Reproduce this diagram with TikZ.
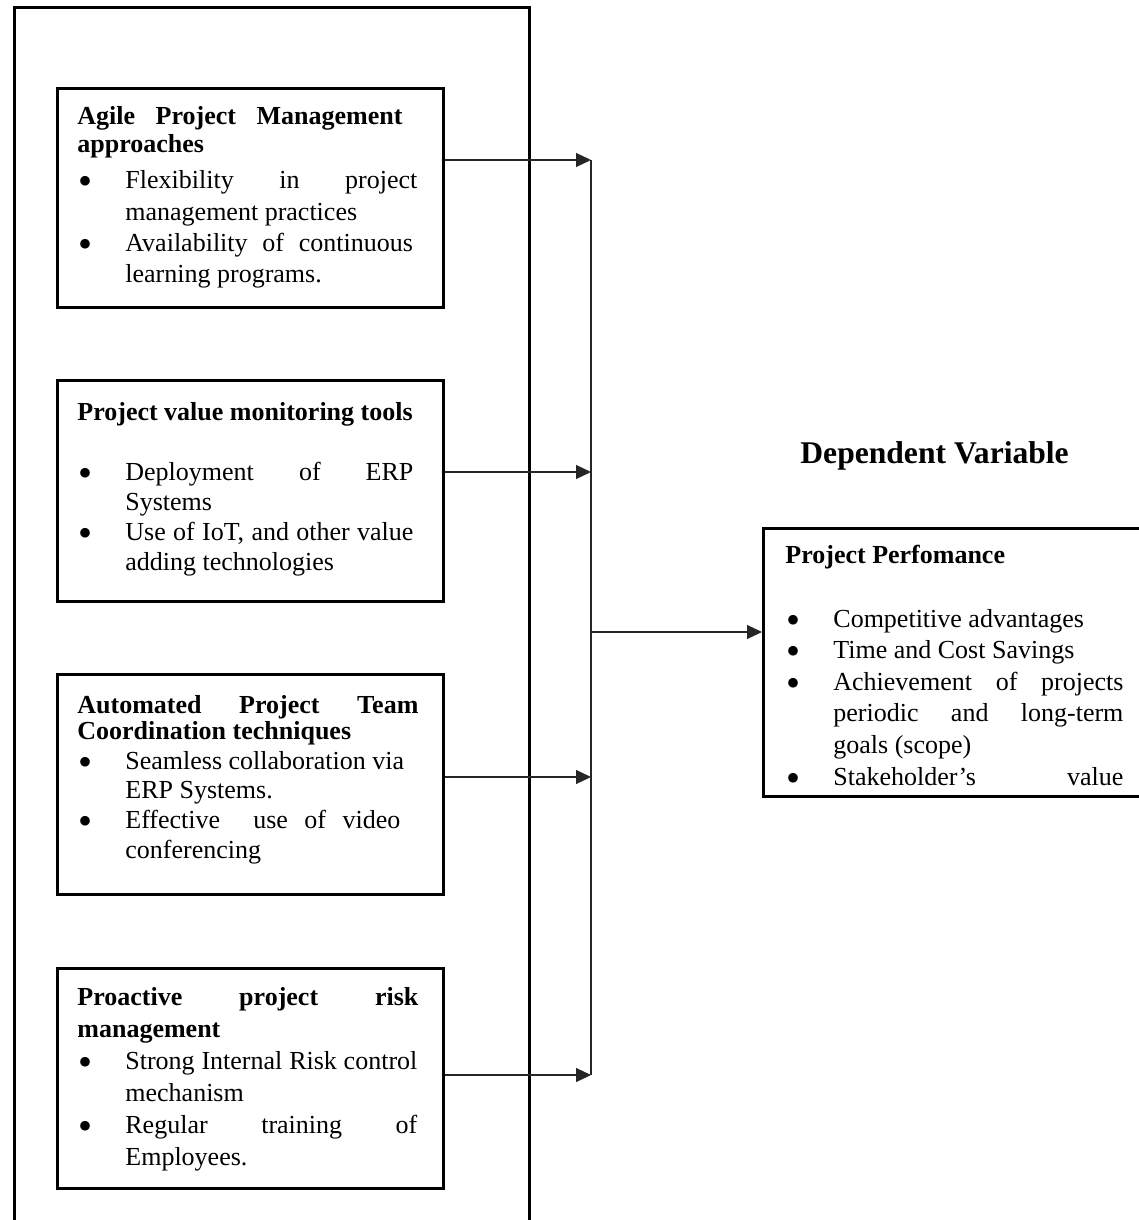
\documentclass[tikz,border=0pt]{standalone}
\usepackage{fontspec}
\setmainfont{Liberation Serif}
\newfontfamily\bulfont{DejaVu Sans}
\usetikzlibrary{arrows.meta}
\newcommand{\bul}{\makebox[24pt][l]{\hspace{1.1pt}\raisebox{2pt}{\bulfont\fontsize{6.3pt}{6.3pt}\selectfont ●}}}
\newcommand{\ind}{\hspace*{24pt}}
\newcommand{\jl}[2]{\makebox[#1][s]{#2}}
\begin{document}
\begin{tikzpicture}[x=0.5pt,y=-0.5pt,
  box/.style={draw, line width=1.4pt, inner sep=0pt, anchor=north west},
  txt/.style={inner sep=0pt, anchor=base west},
  conn/.style={line width=0.6pt, draw=black!85},
  arr/.style={conn, -{Triangle[length=7.5pt,width=7pt]}}]

\useasboundingbox (0,0) rectangle (1139,1220);
\clip (0,0) rectangle (1139,1220);

% outer frame
\node[box, line width=1.6pt, minimum width=257.75pt, minimum height=640pt] (frame) at (12.5,6) {};

% boxes
\node[box, minimum width=193pt, minimum height=109.5pt] (b1) at (56,87) {};
\node[box, minimum width=193pt, minimum height=110.5pt] (b2) at (56,379) {};
\node[box, minimum width=193pt, minimum height=110pt] (b3) at (56,673) {};
\node[box, minimum width=193pt, minimum height=110pt] (b4) at (56,967) {};
\node[box, minimum width=220pt, minimum height=134pt] (perf) at (762,527) {};

% texts
\node[txt] (t1) at (77,125) {\parbox[t]{200pt}{\fontsize{13pt}{13.5pt}\selectfont
{\bfseries\jl{162.5pt}{Agile Project Management}}\\
{\bfseries approaches}\\[5pt]
\bul\jl{146pt}{Flexibility in project}\\[2.15pt]
\ind management practices\\[2.15pt]
\bul\jl{143.75pt}{Availability of continuous}\\[2.15pt]
\ind learning programs.}};

\node[txt] (t2) at (77,420) {\parbox[t]{200pt}{\fontsize{13pt}{15pt}\selectfont
{\bfseries Project value monitoring tools}\\[15pt]
\bul\jl{144pt}{Deployment of ERP}\\
\ind Systems\\
\bul\jl{144pt}{Use of IoT, and other value}\\
\ind adding technologies}};

\node[txt] (t3) at (77,713) {\parbox[t]{200pt}{\fontsize{13pt}{13pt}\selectfont
{\bfseries\jl{170.5pt}{Automated Project Team}}\\
{\bfseries Coordination techniques}\\[2pt]
\bul Seamless collaboration via\\[1.7pt]
\ind ERP Systems.\\[2.2pt]
\bul\jl{137.5pt}{Effective\ \ use of video}\\[2pt]
\ind conferencing}};

\node[txt] (t4) at (77,1005) {\parbox[t]{200pt}{\fontsize{13pt}{16pt}\selectfont
{\bfseries\jl{170.5pt}{Proactive project risk}}\\
{\bfseries management}\\
\bul\jl{146pt}{Strong Internal Risk control}\\
\ind mechanism\\
\bul\jl{146pt}{Regular training of}\\
\ind Employees.}};

\node[txt] (t5) at (785,563) {\parbox[t]{200pt}{\fontsize{13pt}{15.8pt}\selectfont
{\bfseries Project Perfomance}\\[16.2pt]
\bul Competitive advantages\\
\bul Time and Cost Savings\\
\bul\jl{145pt}{Achievement of projects}\\
\ind\jl{145pt}{periodic and long-term}\\
\ind goals (scope)\\
\bul\jl{145pt}{Stakeholder’s value}}};

\node[txt, font=\fontsize{15.8pt}{18pt}\selectfont\bfseries] (dv) at (800,463) {Dependent Variable};

% connectors
\coordinate (bus1) at (591,160);
\coordinate (bus2) at (591,472);
\coordinate (bus3) at (591,777);
\coordinate (bus4) at (591,1075);
\coordinate (busm) at (591,632);

\draw[conn] (bus1) -- (bus4);
\draw[arr] (b1.east |- bus1) -- (bus1);
\draw[arr] (b2.east |- bus2) -- (bus2);
\draw[arr] (b3.east |- bus3) -- (bus3);
\draw[arr] (b4.east |- bus4) -- (bus4);
\draw[arr] (busm) -- (perf.west |- busm);
\end{tikzpicture}
\end{document}
